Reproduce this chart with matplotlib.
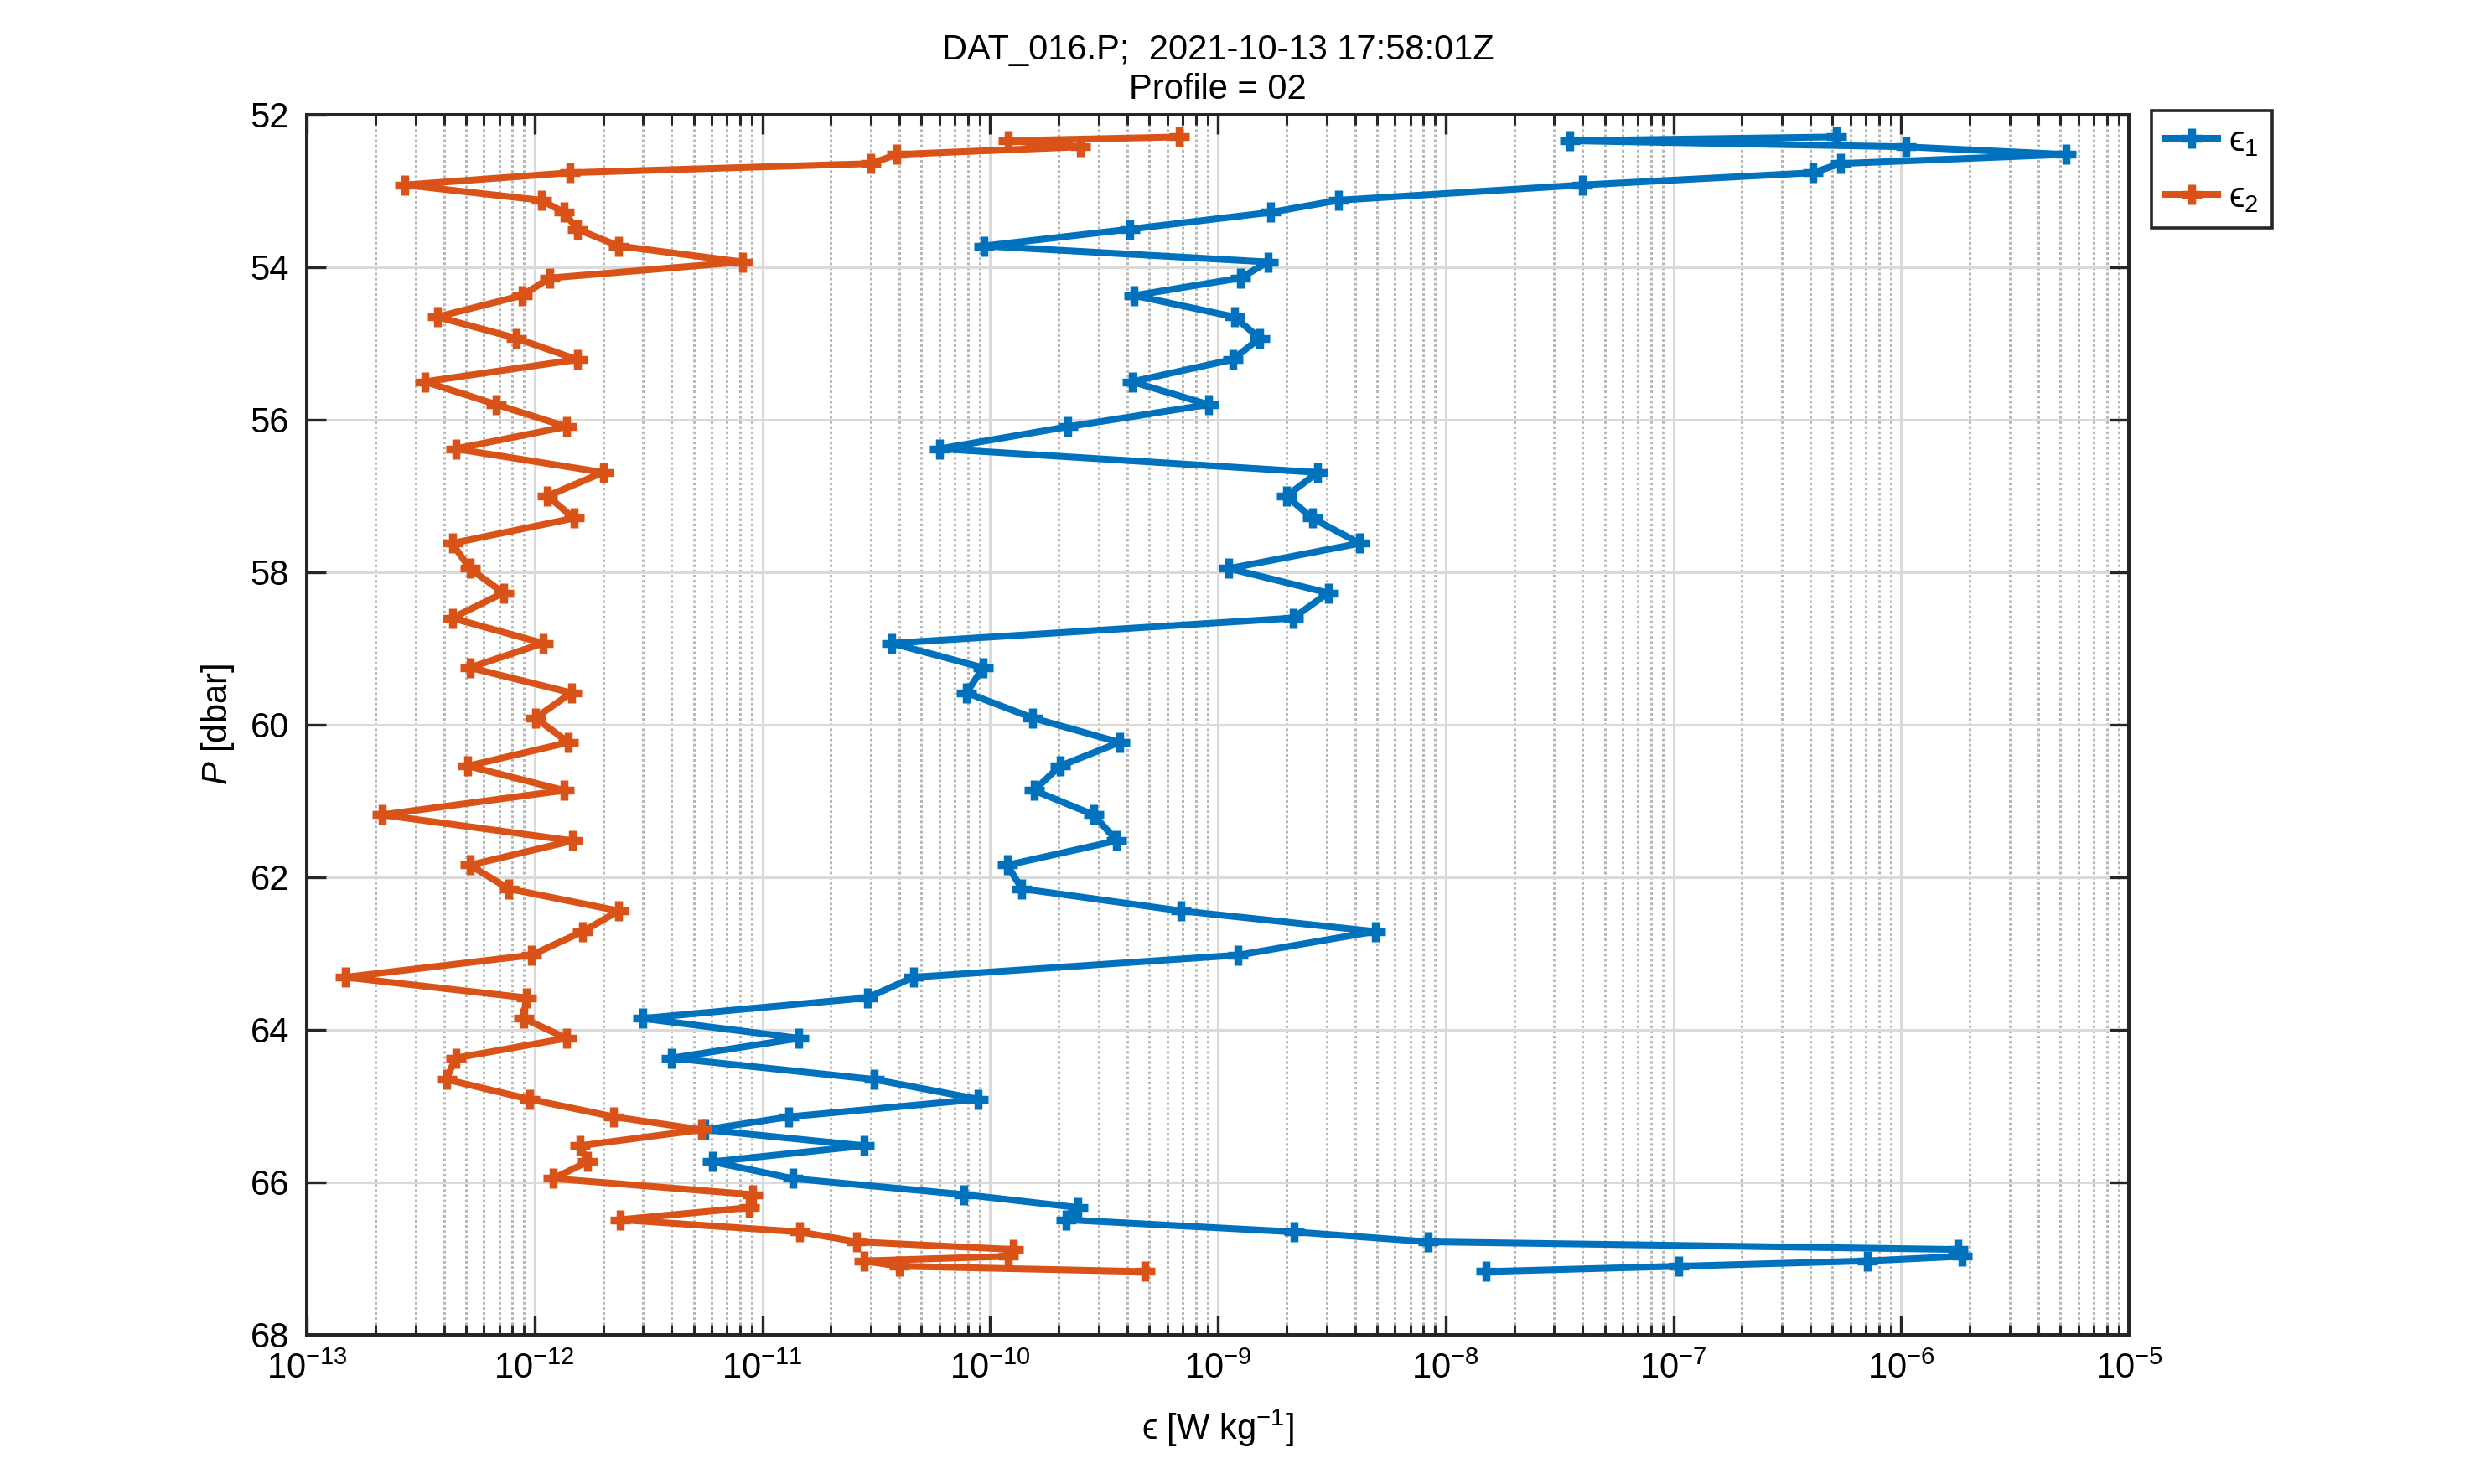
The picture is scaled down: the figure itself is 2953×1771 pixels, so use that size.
import numpy as np
import matplotlib
matplotlib.use("Agg")
import matplotlib.pyplot as plt
from matplotlib.ticker import LogLocator, NullFormatter, FixedLocator

# ---------------- data ----------------
pressure = [52.29, 52.34, 52.42, 52.52, 52.64, 52.76, 52.92, 53.12, 53.28, 53.50,
            53.72, 53.93, 54.14, 54.37, 54.65, 54.93, 55.21, 55.50, 55.80, 56.09,
            56.38, 56.69, 57.00, 57.29, 57.62, 57.95, 58.27, 58.60, 58.93, 59.25,
            59.58, 59.91, 60.23, 60.54, 60.86, 61.18, 61.52, 61.84, 62.15, 62.44,
            62.71, 63.02, 63.31, 63.58, 63.85, 64.11, 64.37, 64.65, 64.91, 65.14,
            65.31, 65.52, 65.73, 65.95, 66.16, 66.33, 66.49, 66.65, 66.78, 66.88,
            66.97, 67.03, 67.10, 67.17]

eps1 = [5.2e-7, 3.5e-8, 1.05e-6, 5.3e-6, 5.4e-7, 4.1e-7, 4.0e-8, 3.4e-9, 1.7e-9, 4.1e-10,
        9.4e-11, 1.66e-9, 1.26e-9, 4.3e-10, 1.18e-9, 1.53e-9, 1.16e-9, 4.2e-10, 9.1e-10, 2.2e-10,
        6.0e-11, 2.75e-9, 2.0e-9, 2.6e-9, 4.2e-9, 1.12e-9, 3.05e-9, 2.14e-9, 3.7e-11, 9.3e-11,
        7.9e-11, 1.54e-10, 3.7e-10, 2.03e-10, 1.56e-10, 2.85e-10, 3.6e-10, 1.19e-10, 1.38e-10, 6.9e-10,
        4.9e-9, 1.23e-9, 4.6e-11, 2.9e-11, 2.98e-12, 1.45e-11, 4.0e-12, 3.1e-11, 8.9e-11, 1.31e-11,
        5.6e-12, 2.8e-11, 6.05e-12, 1.36e-11, 7.7e-11, 2.43e-10, 2.15e-10, 2.17e-9, 8.4e-9, 1.78e-6,
        1.85e-6, 7.1e-7, 1.06e-7, 1.5e-8]

eps2 = [6.8e-10, 1.2e-10, 2.5e-10, 3.9e-11, 3.0e-11, 1.43e-12, 2.7e-13, 1.07e-12, 1.35e-12, 1.54e-12,
        2.34e-12, 8.2e-12, 1.17e-12, 8.8e-13, 3.75e-13, 8.3e-13, 1.54e-12, 3.3e-13, 6.8e-13, 1.38e-12,
        4.5e-13, 2.0e-12, 1.14e-12, 1.49e-12, 4.35e-13, 5.2e-13, 7.3e-13, 4.35e-13, 1.09e-12, 5.2e-13,
        1.45e-12, 1.01e-12, 1.41e-12, 5.1e-13, 1.35e-12, 2.14e-13, 1.47e-12, 5.2e-13, 7.7e-13, 2.34e-12,
        1.63e-12, 9.7e-13, 1.48e-13, 9.2e-13, 8.95e-13, 1.38e-12, 4.5e-13, 4.1e-13, 9.5e-13, 2.23e-12,
        5.4e-12, 1.58e-12, 1.71e-12, 1.21e-12, 9.06e-12, 8.8e-12, 2.37e-12, 1.46e-11, 2.6e-11, 1.27e-10,
        1.2e-10, 2.8e-11, 4.0e-11, 4.8e-10]

series_labels = ['ϵ$_{\\mathregular{1}}$', 'ϵ$_{\\mathregular{2}}$']
title_text = 'DAT_016.P;  2021-10-13 17:58:01Z\nProfile = 02'
xlabel_text = 'ϵ [W kg$^{-1}$]'
ylabel_text = '$P$ [dbar]'
yticks = [52, 54, 56, 58, 60, 62, 64, 66, 68]

# ---------------- style ----------------
plt.rcParams['font.family'] = ['Liberation Sans', 'DejaVu Sans']
plt.rcParams['mathtext.fontset'] = 'custom'
plt.rcParams['mathtext.rm'] = 'Liberation Sans'
plt.rcParams['mathtext.it'] = 'Liberation Sans:italic'
plt.rcParams['mathtext.bf'] = 'Liberation Sans:bold'
plt.rcParams['mathtext.sf'] = 'Liberation Sans'
plt.rcParams['axes.unicode_minus'] = False

FS = 15
AXC = '#262626'
C1 = '#0072BD'
C2 = '#D95319'

fig = plt.figure(figsize=(2953/200, 1771/200), dpi=200)
ax = fig.add_axes([366/2953, 1 - 1593/1771, (2540-366)/2953, (1593-137)/1771])

mk = dict(marker='+', markersize=8.8, markeredgewidth=3.4, linewidth=2.9)
ax.plot(eps1, pressure, color=C1, label=series_labels[0], zorder=3, **mk)
ax.plot(eps2, pressure, color=C2, label=series_labels[1], zorder=3, **mk)

ax.set_xscale('log')
ax.set_xlim(1e-13, 1e-5)
ax.set_ylim(68, 52)
ax.yaxis.set_major_locator(FixedLocator(yticks))
ax.xaxis.set_major_locator(LogLocator(base=10, numticks=20))
ax.xaxis.set_minor_locator(LogLocator(base=10, subs=np.arange(2, 10), numticks=100))
ax.xaxis.set_minor_formatter(NullFormatter())

ax.set_axisbelow(True)
ax.grid(True, which='major', color='#dadada', linestyle='-', linewidth=1.1)
ax.grid(True, which='minor', axis='x', color='#b8b8b8', linestyle=(0, (1, 1)), linewidth=1.1)

for s in ax.spines.values():
    s.set_color(AXC)
    s.set_linewidth(1.45)

ax.tick_params(which='both', direction='in', top=True, right=True, colors=AXC,
               labelcolor='black', labelsize=FS)
ax.tick_params(which='major', length=8.2, width=1.2, pad=7.5)
ax.tick_params(which='minor', length=4.2, width=1.1)

ax.set_title(title_text, fontsize=FS, pad=7, color='black', linespacing=1.2)
ax.set_xlabel(xlabel_text, fontsize=FS, labelpad=9)
ax.set_ylabel(ylabel_text, fontsize=FS, labelpad=6)

leg = ax.legend(loc='upper left', bbox_to_anchor=(1.0124, 1.0034), fontsize=FS,
                fancybox=False, frameon=True, edgecolor=AXC, framealpha=1,
                handlelength=1.5, handletextpad=0.3, labelspacing=0.65,
                borderpad=0.4, borderaxespad=0.0)
leg.get_frame().set_linewidth(1.3)

fig.savefig('out.png', dpi=200)
